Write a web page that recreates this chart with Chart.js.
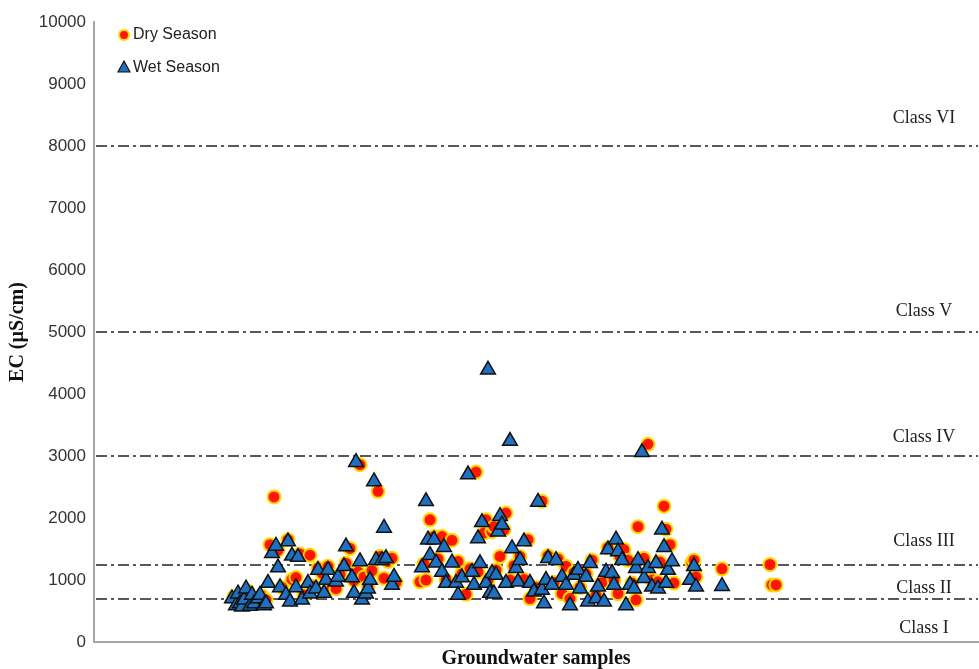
<!DOCTYPE html>
<html>
<head>
<meta charset="utf-8">
<title>EC</title>
<script src="https://cdn.jsdelivr.net/npm/chart.js@4.4.0/dist/chart.umd.min.js"></script>
<style>
body{margin:0;background:#fff;}
</style>
</head>
<body>
<canvas id="grafik" width="979" height="669"></canvas>
<script>
var dryX = [70,73,75,77,80,82,84,86,88,90,92,94,97,99,101,103,105,108,110,112,114,117,119,121,123,126,128,130,132,133,135,137,139,142,143,145,147,149,151,
  163,165,166,168,170,172,174,176,179,182,184,186,188,191,192,195,196,197,199,200,201,203,205,206,208,210,213,215,217,218,221,224,227,230,232,234,236,238,
  240,243,246,249,251,254,257,260,262,263,265,267,269,271,272,275,277,279,282,283,285,286,288,290,299,300,301,314,338,339,341];
var dryEC = [730,690,760,820,700,650,740,680,1570,2340,1480,880,1650,1010,1040,1420,760,1400,900,1190,1110,1220,880,860,1090,1270,1510,990,1130,2860,1050,900,1150,2430,1380,1030,1300,1350,960,
  970,1260,1000,1970,1700,1340,1700,1000,1640,1300,1100,770,1180,2740,1130,1760,1970,1000,1780,1860,1160,1380,1810,2080,1000,1230,1380,1010,1650,700,880,2270,1390,960,1340,780,1220,700,
  1120,880,1100,1320,750,960,1520,1000,780,1380,1490,1320,950,680,1860,1350,3190,1000,970,1290,2190,1820,1570,950,1280,1320,1050,1180,1250,920,920];

var wetX = [69,71,72,73,74,75,76,78,79,80,82,83,85,86,87,89,91,92,93,96,97,98,99,101,102,104,107,108,111,112,115,116,117,121,122,125,126,129,130,
  131,133,134,136,137,138,140,141,144,145,146,149,150,164,166,167,168,170,171,174,175,176,179,181,182,184,187,189,190,192,193,194,196,197,198,199,
  200,201,202,203,204,206,208,209,211,212,213,215,218,220,222,224,225,226,227,229,231,234,236,238,240,242,243,246,247,248,251,252,255,256,257,259,
  260,261,262,264,266,268,270,271,272,274,275,277,279,281,282,284,285,286,287,289,298,300,301,314];
var wetEC = [700,590,780,620,570,680,860,580,760,620,700,760,590,620,950,1430,1550,1200,880,760,1620,650,1390,880,1370,680,950,780,860,1160,790,1000,1160,970,1050,1220,1540,1040,790,
  2900,1300,680,780,860,1000,2590,1320,1320,1840,1350,920,1050,1200,2270,1650,1400,1650,1280,1130,1530,950,1280,950,760,1040,2700,1130,920,1670,1270,1930,950,4390,790,1110,
  780,1080,1780,2030,1890,950,3240,1510,1190,970,1320,1620,950,810,2260,840,620,1000,1350,920,1320,1050,920,590,1080,1160,860,1050,650,1270,700,890,650,1130,1490,1110,
  920,1650,1460,1320,590,920,860,1190,1320,3060,1030,1190,890,1270,860,1810,1530,950,1160,1300,1000,1220,890,900];

var classLimits = [700, 1250, 3000, 5000, 8000];
var classNames = ["Class I", "Class II", "Class III", "Class IV", "Class V", "Class VI"];
var classLabelAt = [220, 870, 1620, 3300, 5340, 8450];

function noktalar(xs, ys) {
  return xs.map(function(x, i) { return {x: x, y: ys[i]}; });
}

var sinifCizgileri = {
  id: 'sinifCizgileri',
  beforeDatasetsDraw: function(chart) {
    var ctx = chart.ctx, y = chart.scales.y, alan = chart.chartArea;
    ctx.save();
    ctx.strokeStyle = '#595959';
    ctx.lineWidth = 2;
    ctx.setLineDash([11, 4, 3, 4]);
    classLimits.forEach(function(v) {
      var py = Math.round(y.getPixelForValue(v));
      ctx.beginPath();
      ctx.moveTo(alan.left + 2, py);
      ctx.lineTo(alan.right, py);
      ctx.stroke();
    });
    ctx.setLineDash([]);
    ctx.fillStyle = '#222';
    ctx.font = '18px "Liberation Serif"';
    ctx.textAlign = 'center';
    ctx.textBaseline = 'middle';
    classNames.forEach(function(t, i) {
      ctx.fillText(t, alan.right - 54, y.getPixelForValue(classLabelAt[i]));
    });
    ctx.restore();
  }
};

var lejant = {
  id: 'lejant',
  afterDraw: function(chart) {
    var ctx = chart.ctx, a = chart.chartArea;
    var ds = chart.data.datasets;
    var x = a.left + 30, y1 = a.top + 13, y2 = a.top + 46;
    ctx.save();
    ctx.beginPath();
    ctx.arc(x, y1, 5, 0, Math.PI * 2);
    ctx.fillStyle = ds[0].backgroundColor;
    ctx.fill();
    ctx.lineWidth = 2;
    ctx.strokeStyle = ds[0].borderColor;
    ctx.stroke();
    ctx.beginPath();
    ctx.moveTo(x, y2 - 7);
    ctx.lineTo(x + 6, y2 + 4);
    ctx.lineTo(x - 6, y2 + 4);
    ctx.closePath();
    ctx.fillStyle = ds[1].backgroundColor;
    ctx.fill();
    ctx.lineWidth = 1.2;
    ctx.strokeStyle = ds[1].borderColor;
    ctx.stroke();
    ctx.fillStyle = '#222';
    ctx.font = '16px "Liberation Sans"';
    ctx.textBaseline = 'middle';
    ctx.fillText(ds[0].label, x + 9, y1);
    ctx.fillText(ds[1].label, x + 9, y2);
    ctx.restore();
  }
};

new Chart(document.getElementById('grafik'), {
  type: 'scatter',
  data: {
    datasets: [{
      label: 'Dry Season',
      data: noktalar(dryX, dryEC),
      pointStyle: 'circle',
      pointRadius: 6.5,
      pointHoverRadius: 6.5,
      backgroundColor: '#ff1500',
      borderColor: '#ffd800',
      borderWidth: 2,
      order: 2
    }, {
      label: 'Wet Season',
      data: noktalar(wetX, wetEC),
      pointStyle: 'triangle',
      pointRadius: 8.5,
      pointHoverRadius: 8.5,
      backgroundColor: '#1f70bf',
      borderColor: '#111',
      borderWidth: 1.5,
      order: 1
    }]
  },
  options: {
    responsive: false,
    animation: false,
    layout: {autoPadding: false, padding: {top: 22, right: 1, left: 0, bottom: 0}},
    plugins: {legend: {display: false}, tooltip: {enabled: false}},
    scales: {
      x: {
        type: 'linear', min: 0, max: 442,
        ticks: {display: false},
        grid: {display: false, drawTicks: false, tickLength: 0},
        border: {color: '#a6a6a6', width: 2},
        title: {display: true, text: 'Groundwater samples', color: '#111',
          font: {family: '"Liberation Serif"', size: 20, weight: 'bold', lineHeight: 1},
          padding: {top: 0, bottom: 0}},
        afterFit: function(s) { s.height = 27; }
      },
      y: {
        min: 0, max: 10000,
        ticks: {stepSize: 1000, padding: 8, color: '#333', font: {family: '"Liberation Sans"', size: 17},
          callback: function(v) { return String(v); }},
        grid: {display: false, drawTicks: false, tickLength: 0},
        border: {color: '#a6a6a6', width: 2},
        title: {display: true, text: 'EC (µS/cm)', color: '#111',
          font: {family: '"Liberation Serif"', size: 20, weight: 'bold', lineHeight: 1},
          padding: {top: 8, bottom: 0}},
        afterFit: function(s) { s.width = 94; }
      }
    }
  },
  plugins: [sinifCizgileri, lejant]
});
</script>
</body>
</html>
